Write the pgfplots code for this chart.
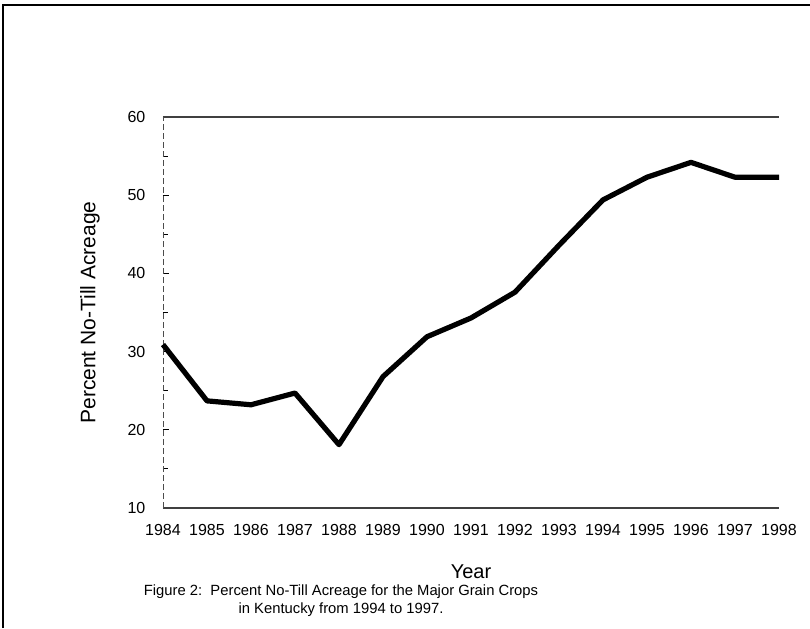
\documentclass[border=0pt]{standalone}
\usepackage{pgfplots}
\pgfplotsset{compat=1.18}
\usepackage{fontspec}
\setmainfont{Liberation Sans}
\begin{document}
\begin{tikzpicture}
\useasboundingbox (0,0) rectangle (405pt,314pt);
\draw[line width=1pt, black] (1.5pt,0) -- (1.5pt,311.5pt) -- (405pt,311.5pt);
\begin{axis}[
  at={(81.5pt,60pt)}, anchor=south west,
  scale only axis, width=308pt, height=195.5pt,
  xmin=1984, xmax=1998, ymin=10, ymax=60,
  axis x line*=box, axis y line*=left,
  x axis line style={black!75, line width=0.6pt},
  y axis line style={black!70, line width=0.45pt, dash pattern=on 3pt off 1.5pt},
  xtick={1984,1985,...,1998},
  xtick style={draw=none},
  ytick={10,20,...,60},
  minor y tick num=1,
  ytick pos=left, tick align=inside,
  major tick length=3pt, minor tick length=2.5pt,
  y tick style={black, line width=0.5pt},
  /pgf/number format/assume math mode=true,
  /pgf/number format/1000 sep={},
  ticklabel style={font=\fontsize{8}{9.6}\selectfont},
  xticklabel style={yshift=-4.5pt},
  yticklabel style={xshift=-5.3pt},
  xlabel={Year},
  xlabel style={font=\fontsize{10}{12}\selectfont, at={(axis description cs:0.5,-0.164)}, anchor=center},
  ylabel={Percent No-Till Acreage},
  ylabel style={font=\fontsize{10.5}{12.6}\selectfont, at={(axis description cs:-0.1185,0.5)}, anchor=center},
  clip=false,
]
\addplot[black, line width=2.6pt, line join=round] coordinates {
  (1984,30.9) (1985,23.7) (1986,23.2) (1987,24.7) (1988,18.1)
  (1989,26.8) (1990,31.9) (1991,34.3) (1992,37.6) (1993,43.6)
  (1994,49.4) (1995,52.3) (1996,54.2) (1997,52.3) (1998,52.3)
};
\end{axis}
\node[align=center, font=\fontsize{7.4}{9}\selectfont, inner sep=0pt] at (170.5pt,13.5pt)
  {Figure 2:\ \ Percent No-Till Acreage for the Major Grain Crops\\ in Kentucky from 1994 to 1997.};
\end{tikzpicture}
\end{document}
